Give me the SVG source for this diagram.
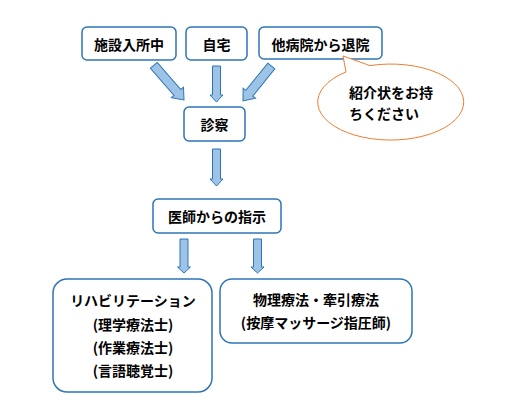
<svg xmlns="http://www.w3.org/2000/svg" width="506" height="402" viewBox="0 0 506 402">
<style>
.box{fill:#fff;stroke:#2E75B6;stroke-width:1.5}
.arr{fill:#9DC3E6;stroke:#2E75B6;stroke-width:1;stroke-linejoin:miter}
.t{font-family:"Noto Sans CJK JP","Noto Sans CJK SC",sans-serif;font-size:14px;font-weight:bold;fill:#000;dominant-baseline:central}
.c{text-anchor:middle}
.call{fill:#fff;stroke:#ED7D31;stroke-width:1}
</style>
<rect width="506" height="402" fill="#fff"/>
<g id="connectors">
<polygon class="arr" transform="translate(184,100) rotate(-41)" points="-4.5,-46 4.5,-46 4.5,-10 8,-10 0,0 -8,-10 -4.5,-10"/>
<polygon class="arr" points="212.5,66 220.5,66 220.5,95 223,95 216.5,102 210,95 212.5,95"/>
<polygon class="arr" transform="translate(243,101) rotate(39)" points="-4.5,-45 4.5,-45 4.5,-10 8,-10 0,0 -8,-10 -4.5,-10"/>
<polygon class="arr" points="212.5,149 220.5,149 220.5,179 223,179 216.5,186 210,179 212.5,179"/>
<polygon class="arr" points="180,239 188,239 188,267 190.5,267 184,273 177.5,267 180,267"/>
<polygon class="arr" points="253.5,239 261.5,239 261.5,267 264,267 257.5,273 251,267 253.5,267"/>
</g>
<g id="node-shisetsu">
<rect class="box" x="82" y="27" width="94" height="33" rx="5"/>
<text class="t c" x="129" y="44">施設入所中</text>
</g>
<g id="node-jitaku">
<rect class="box" x="186" y="27" width="61" height="33" rx="5"/>
<text class="t c" x="216.5" y="44">自宅</text>
</g>
<g id="node-taibyoin">
<rect class="box" x="259" y="27" width="123" height="32" rx="5"/>
<text class="t c" x="320.5" y="44">他病院から退院</text>
</g>
<g id="callout">
<path class="call" d="M346,72 L343,56 L370,65.6 A73,38 0 1,1 346,72 Z"/>
<text class="t" x="349" y="92">紹介状をお持</text>
<text class="t" x="349" y="113">ちください</text>
</g>
<g id="node-shinsatsu">
<rect class="box" x="184" y="107" width="61" height="34" rx="5"/>
<text class="t c" x="214.5" y="124">診察</text>
</g>
<g id="node-ishi">
<rect class="box" x="153" y="199" width="128" height="34" rx="5"/>
<text class="t c" x="217" y="216">医師からの指示</text>
</g>
<g id="node-rehab">
<rect class="box" x="53" y="279" width="159" height="113" rx="14"/>
<text class="t c" x="133" y="300">リハビリテーション</text>
<text class="t c" x="133" y="324">(理学療法士)</text>
<text class="t c" x="133" y="347">(作業療法士)</text>
<text class="t c" x="133" y="370">(言語聴覚士)</text>
</g>
<g id="node-butsuri">
<rect class="box" x="220" y="279" width="192" height="64" rx="12"/>
<text class="t c" x="316" y="299">物理療法・牽引療法</text>
<text class="t c" x="316" y="322">(按摩マッサージ指圧師)</text>
</g>
</svg>
